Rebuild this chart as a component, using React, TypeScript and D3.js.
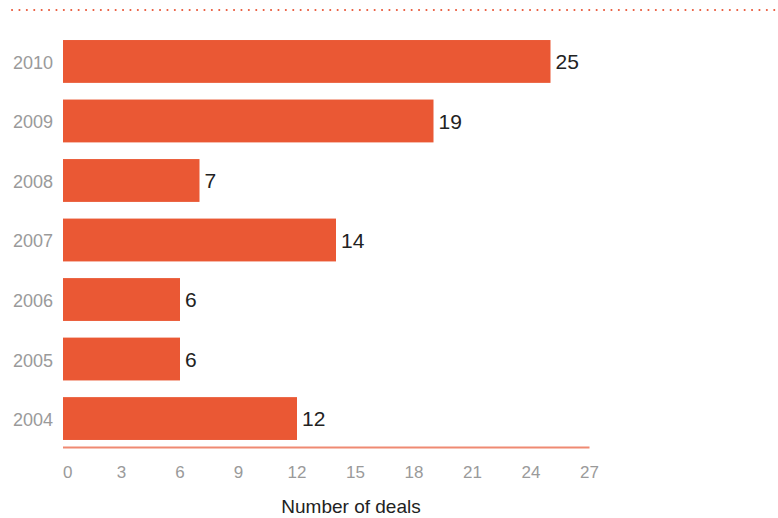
import React from "react";
import * as d3 from "d3";

const years = ["2010", "2009", "2008", "2007", "2006", "2005", "2004"];
const deals = [25, 19, 7, 14, 6, 6, 12];
const ticks = [0, 3, 6, 9, 12, 15, 18, 21, 24, 27];
const axisTitle = "Number of deals";

const W = 778;
const H = 518;
const FONT = "'Liberation Sans', Arial, Helvetica, sans-serif";

export default function App() {
  const x = d3.scaleLinear().domain([0, 27]).range([63, 589.5]);
  const y = d3
    .scaleBand<string>()
    .domain(years)
    .range([31.7, 448.3])
    .paddingInner(0.28)
    .paddingOuter(0.14);
  const axisY = 447.5;

  return (
    <svg
      width={W}
      height={H}
      style={{ position: "absolute", left: 0, top: 0, background: "#fff" }}
      fontFamily={FONT}
    >
      <line
        x1={12}
        x2={W}
        y1={10}
        y2={10}
        stroke="#e9583a"
        strokeWidth={2}
        strokeLinecap="round"
        strokeDasharray="0.1 7.3"
      />
      {years.map((yr, i) => {
        const yy = y(yr)!;
        const bh = y.bandwidth();
        return (
          <g key={yr}>
            <rect
              x={x(0)}
              y={yy}
              width={x(deals[i]) - x(0)}
              height={bh}
              fill="#ea5834"
            />
            <text
              x={53}
              y={yy + bh / 2 + 1}
              dy="0.36em"
              textAnchor="end"
              fontSize={18}
              fill="#9a9a9a"
            >
              {yr}
            </text>
            <text
              x={x(deals[i]) + 5}
              y={yy + bh / 2}
              dy="0.36em"
              textAnchor="start"
              fontSize={21}
              fill="#222"
            >
              {deals[i]}
            </text>
          </g>
        );
      })}
      <line
        x1={x(0)}
        x2={x(27)}
        y1={axisY}
        y2={axisY}
        stroke="#ef8a72"
        strokeWidth={2}
      />
      {ticks.map((t, i) => (
        <text
          key={t}
          x={x(t)}
          y={472}
          dy="0.36em"
          textAnchor={i === 0 ? "start" : "middle"}
          fontSize={17}
          fill="#9a9a9a"
        >
          {t}
        </text>
      ))}
      <text
        x={351}
        y={506}
        dy="0.36em"
        textAnchor="middle"
        fontSize={19}
        fill="#222"
      >
        {axisTitle}
      </text>
    </svg>
  );
}
